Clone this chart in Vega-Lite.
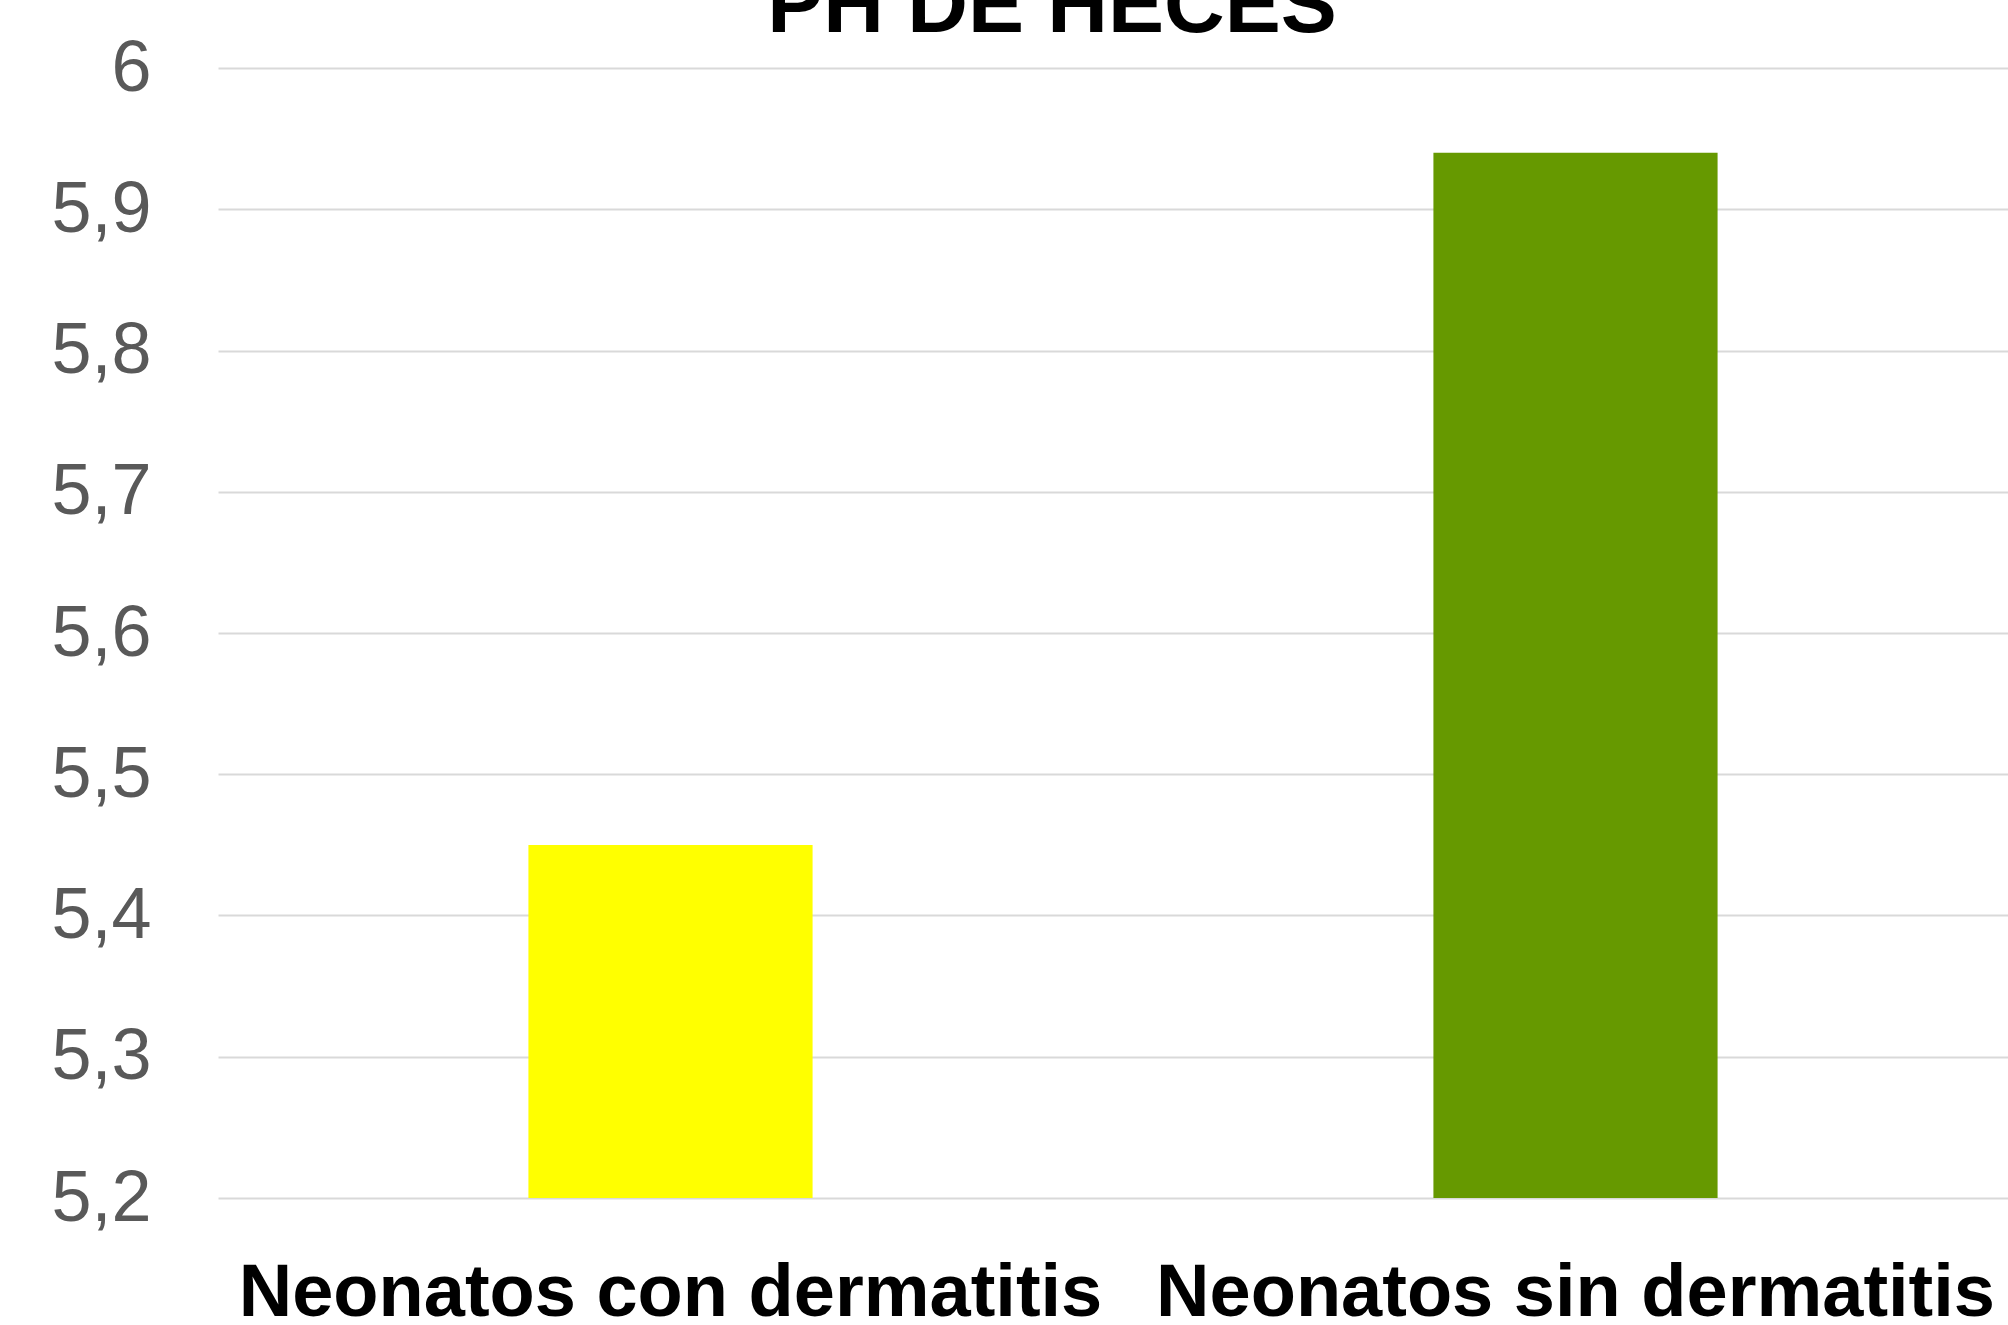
{
  "$schema": "https://vega.github.io/schema/vega-lite/v6.json",
  "autosize": "none",
  "width": 1790,
  "height": 1130,
  "padding": {"left": 218, "top": 68, "right": 0, "bottom": 127},
  "background": "white",
  "title": {
    "text": "PH DE HECES",
    "font": "Liberation Sans",
    "fontSize": 84,
    "fontWeight": "bold",
    "color": "#000000",
    "anchor": "middle",
    "frame": "group",
    "dx": -61,
    "dy": 22
  },
  "data": {
    "values": [
      {"grupo": "Neonatos con dermatitis", "ph": 5.45},
      {"grupo": "Neonatos sin dermatitis", "ph": 5.94}
    ]
  },
  "mark": {"type": "bar"},
  "encoding": {
    "x": {
      "field": "grupo",
      "type": "nominal",
      "sort": null,
      "title": null,
      "scale": {"range": [0, 1810], "paddingInner": 0.686, "paddingOuter": 0.343},
      "axis": {
        "labelAngle": 0,
        "ticks": false,
        "domain": false,
        "labelFont": "Liberation Sans",
        "labelFontSize": 74,
        "labelFontWeight": "bold",
        "labelColor": "#000000",
        "labelBaseline": "alphabetic",
        "labelPadding": 117,
        "labelLimit": 0
      }
    },
    "y": {
      "field": "ph",
      "type": "quantitative",
      "title": null,
      "scale": {"domain": [5.2, 6], "nice": false, "zero": false},
      "axis": {
        "values": [5.2, 5.3, 5.4, 5.5, 5.6, 5.7, 5.8, 5.9, 6],
        "labelExpr": "replace(format(datum.value, '~g'), '.', ',')",
        "ticks": false,
        "domain": false,
        "grid": true,
        "gridColor": "#d9d9d9",
        "gridWidth": 2,
        "labelFont": "Liberation Sans",
        "labelFontSize": 72,
        "labelColor": "#595959",
        "labelPadding": 67,
        "labelBaseline": "middle"
      }
    },
    "y2": {"datum": 5.2},
    "color": {
      "field": "grupo",
      "type": "nominal",
      "scale": {"domain": ["Neonatos con dermatitis", "Neonatos sin dermatitis"], "range": ["#FFFF00", "#669900"]},
      "legend": null
    }
  },
  "config": {"view": {"stroke": null}}
}
